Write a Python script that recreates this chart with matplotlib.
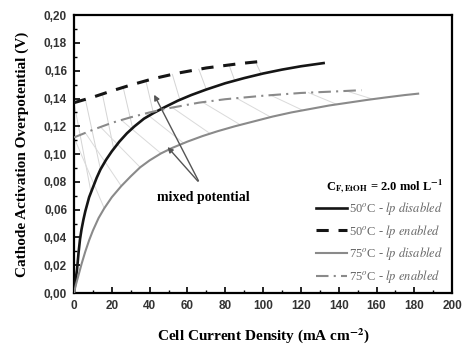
import numpy as np
import matplotlib
matplotlib.use("Agg")
import matplotlib.pyplot as plt
from matplotlib.ticker import MultipleLocator, FuncFormatter

plt.rcParams['font.family'] = ['Liberation Serif', 'DejaVu Serif']
plt.rcParams['mathtext.fontset'] = 'stix'

# 50 C, lp disabled
x50_off = [0, 0.5, 1, 1.6, 2.4, 3.2, 4, 5, 6, 7, 8, 10, 12, 14, 17, 20, 24, 28, 32, 37,
           42, 48, 55, 62, 70, 80, 90, 100, 110, 120, 132]
y50_off = [0, 0.006, 0.011, 0.017, 0.029, 0.039, 0.046, 0.053, 0.059, 0.064, 0.069,
           0.076, 0.083, 0.089, 0.096, 0.102, 0.109, 0.115, 0.120, 0.1255, 0.1295,
           0.1338, 0.1385, 0.1425, 0.1465, 0.1510, 0.1547, 0.1580, 0.1608, 0.1632, 0.1655]
# 50 C, lp enabled
x50_on = [0, 10, 20, 30, 42, 55, 70, 88, 101]
y50_on = [0.137, 0.141, 0.1455, 0.1497, 0.1543, 0.1583, 0.1620, 0.1652, 0.167]
# 75 C, lp disabled
x75_off = [0, 1, 2, 3, 4, 6, 8, 10, 13, 16, 20, 25, 30, 35, 40, 46, 52, 60, 68, 76, 85,
           95, 105, 115, 125, 135, 145, 155, 165, 175, 182]
y75_off = [0, 0.006, 0.011, 0.016, 0.021, 0.030, 0.038, 0.045, 0.054, 0.061, 0.069,
           0.077, 0.084, 0.0905, 0.0955, 0.1005, 0.1045, 0.109, 0.113, 0.1165, 0.120,
           0.1235, 0.127, 0.130, 0.1325, 0.135, 0.137, 0.139, 0.1408, 0.1425, 0.1435]
# 75 C, lp enabled
x75_on = [0, 10, 20, 30, 40, 50, 66, 80, 100, 120, 140, 152]
y75_on = [0.112, 0.1175, 0.1225, 0.1265, 0.130, 0.133, 0.137, 0.1395, 0.142, 0.144,
          0.1452, 0.146]

# mixed potential tie lines: (x on enabled curve, x on disabled curve)
tie50 = [(0, 9), (6, 14), (15, 21), (26, 31), (38, 42), (52, 56), (66, 70), (82, 85), (96, 99)]
tie75 = [(0, 16), (6, 25), (14, 35), (25, 46), (38, 58), (52, 72), (68, 88), (86, 104),
         (104, 121), (124, 139), (144, 158)]

fig = plt.figure(figsize=(4.64, 3.44), dpi=100)
ax = fig.add_axes([0.1595, 0.148, 0.815, 0.808])

for xa, xb in tie50:
    ax.plot([xa, xb], [np.interp(xa, x50_on, y50_on), np.interp(xb, x50_off, y50_off)],
            color='#d4d4d4', lw=0.7, zorder=1)
for xa, xb in tie75:
    ax.plot([xa, xb], [np.interp(xa, x75_on, y75_on), np.interp(xb, x75_off, y75_off)],
            color='#dadada', lw=0.7, zorder=1)

ax.plot(x50_off, y50_off, color='#151515', lw=1.9, label=r'50$^{o}$C - $\mathit{lp\ disabled}$', zorder=3)
ax.plot(x50_on, y50_on, color='#151515', lw=2.2, dashes=(4, 3.2),
        label=r'50$^{o}$C - $\mathit{lp\ enabled}$', zorder=3)
ax.plot(x75_off, y75_off, color='#8a8a8a', lw=1.5, label=r'75$^{o}$C - $\mathit{lp\ disabled}$', zorder=3)
ax.plot(x75_on, y75_on, color='#8a8a8a', lw=1.5, dashes=(6, 2.5, 1, 2.5),
        label=r'75$^{o}$C - $\mathit{lp\ enabled}$', zorder=3)

# arrows pointing from the label to the two mixed potential regions
ax.annotate('', xy=(41.7, 0.1445), xytext=(66.5, 0.079),
            arrowprops=dict(arrowstyle='-|>', color='#555555', lw=1.0, mutation_scale=8))
ax.annotate('', xy=(48.5, 0.1066), xytext=(66.5, 0.079),
            arrowprops=dict(arrowstyle='-|>', color='#555555', lw=1.0, mutation_scale=8))
ax.text(68.5, 0.069, 'mixed potential', ha='center', va='center', fontsize=10,
        fontweight='bold')

ax.set_xlim(0, 200)
ax.set_ylim(0, 0.20)
ax.xaxis.set_major_locator(MultipleLocator(20))
ax.xaxis.set_minor_locator(MultipleLocator(10))
ax.yaxis.set_major_locator(MultipleLocator(0.02))
ax.yaxis.set_minor_locator(MultipleLocator(0.01))
ax.yaxis.set_major_formatter(FuncFormatter(lambda v, p: f'{v:.2f}'.replace('.', ',')))
ax.tick_params(which='both', direction='in', top=False, right=False)
ax.tick_params(which='major', length=4, width=1.2, pad=5)
ax.tick_params(which='minor', length=2, width=1.0)
for lab in ax.get_xticklabels() + ax.get_yticklabels():
    lab.set_fontfamily('Liberation Sans')
    lab.set_fontweight('bold')
    lab.set_fontsize(8.5)
    lab.set_color('#333333')
for s in ax.spines.values():
    s.set_linewidth(1.6)

ax.set_xlabel(r'Cell Current Density (mA cm$^{\mathbf{-2}}$)', fontsize=11, fontweight='bold',
              labelpad=10)
ax.set_ylabel('Cathode Activation Overpotential (V)', fontsize=11, fontweight='bold',
              labelpad=11)

leg = ax.legend(loc='upper right', bbox_to_anchor=(1.0, 0.45), frameon=False,
                title=r'C$_{\mathbf{F,EtOH}}$ = 2.0 mol L$^{\mathbf{-1}}$',
                fontsize=9, handlelength=2.5, handletextpad=0.2, labelspacing=0.45,
                borderpad=0.2)
leg.get_title().set_fontweight('bold')
leg.get_title().set_fontsize(9)
leg._legend_box.align = 'right'
for t in leg.get_texts():
    t.set_color('#666666')

fig.savefig('out.png', dpi=100)
